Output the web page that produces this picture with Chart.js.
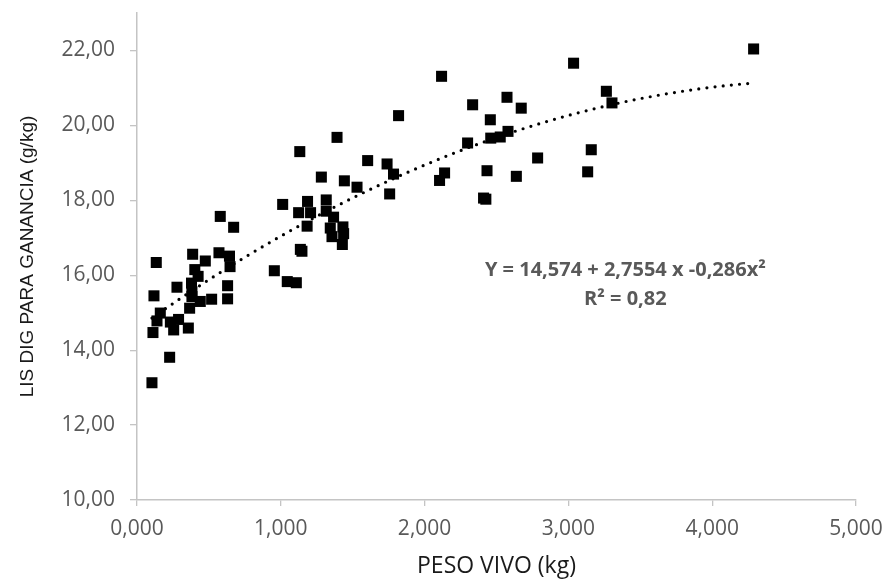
<!DOCTYPE html>
<html>
<head>
<meta charset="utf-8">
<script src="https://cdn.jsdelivr.net/npm/chart.js@4/dist/chart.umd.min.js"></script>
<style>
  html, body { margin: 0; padding: 0; background: #ffffff; }
  #c { display: block; }
</style>
</head>
<body>
<canvas id="c" width="887" height="582"></canvas>
<script>
// Live weight (kg) of each observation
const pesoVivo = [
  0.104, 0.227, 0.111, 0.255, 0.357, 0.139, 0.232, 0.289, 0.162, 0.366,
  0.118, 0.440, 0.382, 0.382, 0.519, 0.630, 0.630, 0.278, 0.379, 0.425,
  0.402, 0.134, 0.387, 0.475, 0.570, 0.643, 0.647, 0.579, 0.672, 0.955,
  1.013, 1.045, 1.108, 1.147, 1.136, 1.183, 1.124, 1.207, 1.186, 1.132,
  1.282, 1.316, 1.316, 1.367, 1.344, 1.432, 1.356, 1.437, 1.428, 1.391,
  1.442, 1.530, 1.604, 1.739, 1.784, 1.757, 1.819, 2.118, 2.139, 2.104,
  2.299, 2.334, 2.457, 2.460, 2.526, 2.434, 2.410, 2.426, 2.580, 2.573,
  2.672, 2.638, 2.786, 3.036, 3.134, 3.159, 3.264, 3.303, 4.288
];
// Digestible lysine requirement for gain (g/kg), same order
const lisDig = [
  13.13, 13.81, 14.47, 14.54, 14.59, 14.78, 14.75, 14.82, 14.99, 15.12,
  15.45, 15.30, 15.43, 15.56, 15.36, 15.37, 15.72, 15.68, 15.79, 15.97,
  16.15, 16.34, 16.56, 16.38, 16.60, 16.51, 16.23, 17.57, 17.28, 16.12,
  17.89, 15.83, 15.80, 16.64, 16.69, 17.31, 17.67, 17.67, 17.97, 19.30,
  18.62, 18.01, 17.71, 17.55, 17.26, 17.29, 17.03, 17.11, 16.82, 19.68,
  18.52, 18.35, 19.06, 18.97, 18.70, 18.17, 20.26, 21.31, 18.73, 18.53,
  19.53, 20.55, 20.15, 19.66, 19.69, 18.79, 18.06, 18.03, 19.84, 20.75,
  20.46, 18.64, 19.13, 21.66, 18.76, 19.35, 20.91, 20.60, 22.04
];

const xTicks = [0, 1, 2, 3, 4, 5];
const yTicks = [10, 12, 14, 16, 18, 20, 22];

// Quadratic fit: Y = a + b·x + c·x²
const trendCoef = [14.574, 2.7554, -0.286];
const equationLines = ['Y = 14,574 + 2,7554 x -0,286x²', 'R² = 0,82'];
const equationAnchor = [3.396, 16.14];

const points = pesoVivo.map((x, i) => ({ x: x, y: lisDig[i] }));

const xMin = Math.min(...pesoVivo);
const xMax = Math.max(...pesoVivo);
const trend = [];
const steps = 80;
for (let i = 0; i <= steps; i++) {
  const x = xMin + (xMax - xMin) * i / steps;
  trend.push({ x: x, y: trendCoef[0] + trendCoef[1] * x + trendCoef[2] * x * x });
}

const axisGrey = '#c4c4c4';
const tickGrey = '#595959';

const equationLabel = {
  id: 'equationLabel',
  afterDatasetsDraw(chart) {
    const { ctx, scales } = chart;
    const cx = scales.x.getPixelForValue(equationAnchor[0]);
    const cy = scales.y.getPixelForValue(equationAnchor[1]);
    ctx.save();
    ctx.font = 'bold 20px "Open Sans"';
    ctx.fillStyle = '#595959';
    ctx.textAlign = 'center';
    ctx.textBaseline = 'middle';
    equationLines.forEach((t, i) => ctx.fillText(t, cx, cy + i * 29));
    ctx.restore();
  }
};

// keep the plot box fixed: no extra room reserved for edge labels
const noEdgePadding = (s) => {
  s.paddingTop = 0; s.paddingBottom = 0; s.paddingLeft = 0; s.paddingRight = 0;
};

new Chart(document.getElementById('c'), {
  type: 'scatter',
  data: {
    datasets: [
      {
        label: 'LIS DIG',
        data: points,
        pointStyle: 'rect',
        pointRadius: 7.8,
        pointHoverRadius: 7.8,
        backgroundColor: '#000000',
        borderWidth: 0
      },
      {
        label: 'Tendencia',
        data: trend,
        showLine: true,
        pointRadius: 0,
        borderColor: '#000000',
        borderWidth: 3.2,
        borderDash: [0, 8.2],
        borderCapStyle: 'round',
        fill: false
      }
    ]
  },
  options: {
    responsive: false,
    animation: false,
    devicePixelRatio: 1,
    layout: { padding: { top: 13, right: 31, left: 0, bottom: 0 } },
    plugins: {
      legend: { display: false },
      tooltip: { enabled: false }
    },
    scales: {
      x: {
        type: 'linear',
        min: 0,
        max: 5,
        afterBuildTicks: (s) => { s.ticks = xTicks.map(v => ({ value: v })); },
        afterFit: (s) => { s.height = 82; noEdgePadding(s); },
        border: { display: true, color: axisGrey, width: 1.5 },
        grid: { display: true, drawOnChartArea: false, drawTicks: true, tickLength: 6, color: axisGrey, lineWidth: 1.3 },
        ticks: {
          color: tickGrey,
          padding: 10,
          maxRotation: 0,
          font: { family: '"Open Sans"', size: 21 },
          callback: (v) => Number(v).toFixed(3).replace('.', ',')
        },
        title: {
          display: true,
          text: 'PESO VIVO (kg)',
          color: '#1a1a1a',
          font: { family: '"Open Sans"', size: 23 },
          padding: { top: 0, bottom: 2 }
        }
      },
      y: {
        type: 'linear',
        min: 10,
        max: 23,
        afterBuildTicks: (s) => { s.ticks = yTicks.map(v => ({ value: v })); },
        afterFit: (s) => { s.width = 137; noEdgePadding(s); },
        border: { display: true, color: axisGrey, width: 1.5 },
        grid: { display: true, drawOnChartArea: false, drawTicks: true, tickLength: 7, color: axisGrey, lineWidth: 1.3 },
        ticks: {
          color: tickGrey,
          padding: 15,
          font: { family: '"Open Sans"', size: 21 },
          callback: (v) => Number(v).toFixed(2).replace('.', ',')
        },
        title: {
          display: true,
          text: 'LIS DIG PARA GANANCIA (g/kg)',
          color: '#1a1a1a',
          font: { family: '"Liberation Sans"', size: 19 },
          padding: { top: 16, bottom: 0 }
        }
      }
    }
  },
  plugins: [equationLabel]
});
</script>
</body>
</html>
